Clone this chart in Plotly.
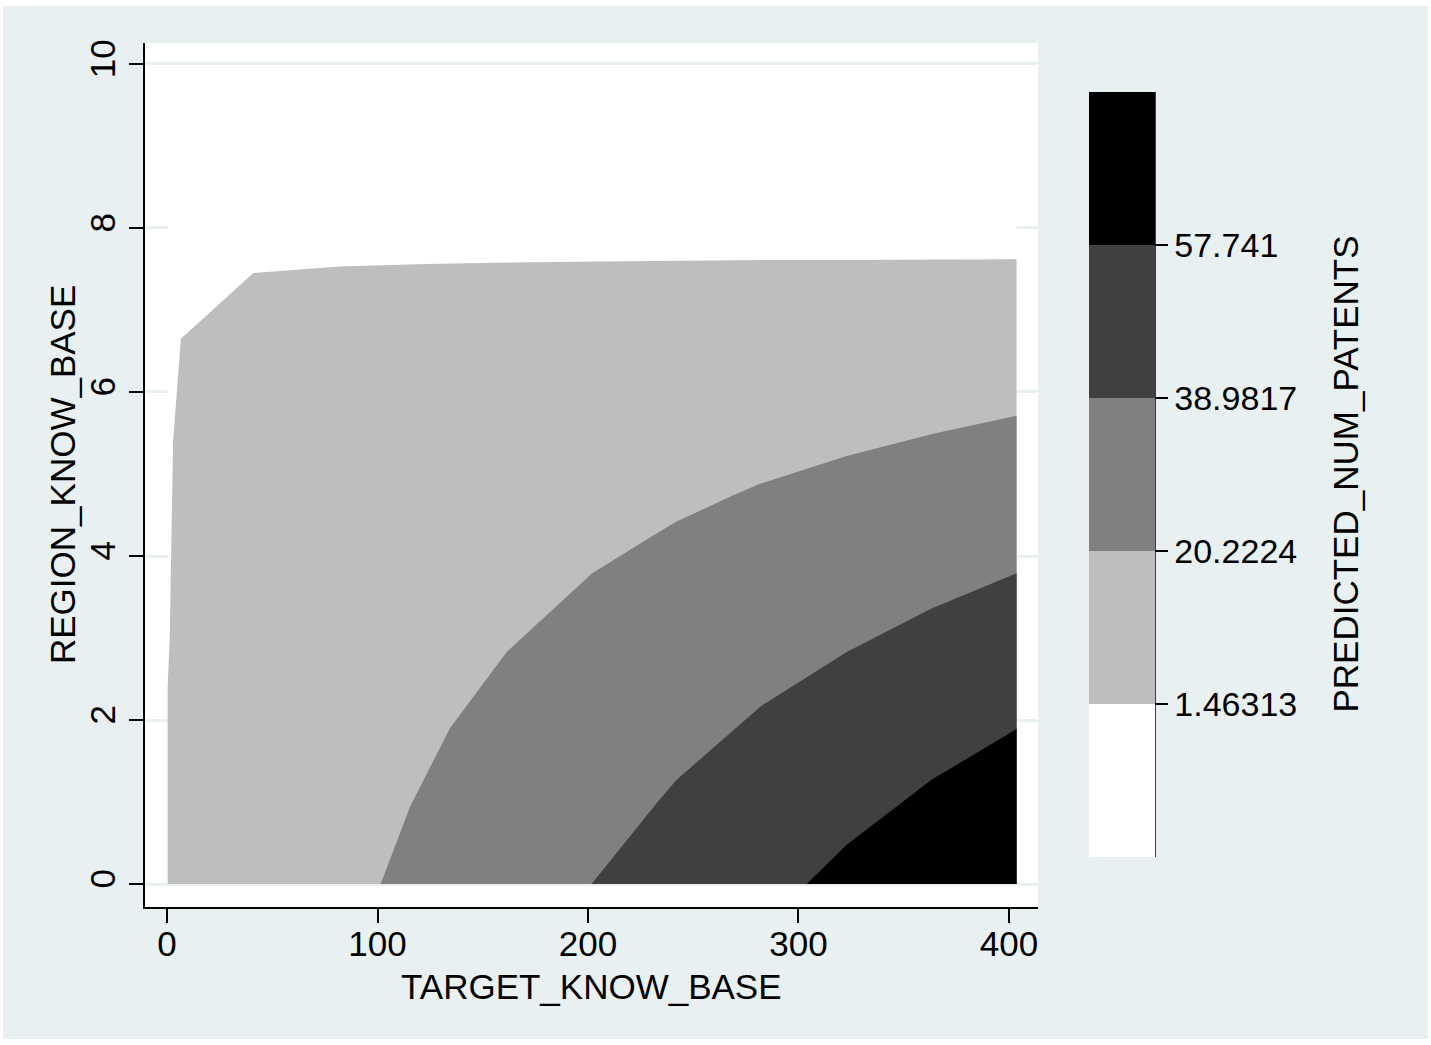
import plotly.graph_objects as go

# contour levels of PREDICTED_NUM_PATENTS and their band colours
levels = [1.46313, 20.2224, 38.9817, 57.741]
level_labels = ["1.46313", "20.2224", "38.9817", "57.741"]
band_colors = ["#ffffff", "#bebebe", "#808080", "#404040", "#000000"]

# extent of the evaluation grid
x_min, x_max = 0.3, 403.6
y_min, y_max = 0.0, 9.6

# level curves: TARGET_KNOW_BASE (x) against REGION_KNOW_BASE (y)
c1_x = [0.3, 0.3, 1.3, 2.9, 6.6, 41, 82, 123, 164, 205, 246, 287, 328, 369, 403.6]
c1_y = [0, 2.4, 3.0, 5.4, 6.65, 7.45, 7.53, 7.56, 7.58, 7.59, 7.60, 7.61, 7.61, 7.615, 7.62]
c2_x = [101.5, 115.4, 134.4, 161.4, 202.0, 227.9, 242.1, 269.0, 281.7, 322.9, 364.0, 403.6]
c2_y = [0, 0.94, 1.90, 2.83, 3.79, 4.20, 4.42, 4.74, 4.88, 5.22, 5.49, 5.71]
c3_x = [201.7, 232.4, 242.1, 281.7, 322.9, 363.2, 403.6]
c3_y = [0, 0.98, 1.27, 2.16, 2.83, 3.36, 3.79]
c4_x = [303.9, 322.9, 363.2, 403.6]
c4_y = [0, 0.48, 1.27, 1.89]

x_ticks = [0, 100, 200, 300, 400]
y_ticks = [0, 2, 4, 6, 8, 10]

x_title = "TARGET_KNOW_BASE"
y_title = "REGION_KNOW_BASE"
z_title = "PREDICTED_NUM_PATENTS"

FONT = "Liberation Sans, Arial, Helvetica, sans-serif"
FS = 35
BG = "#e8f0f2"
W, H = 1431, 1045
ML, MR, MT, MB = 145, 393, 43, 138
PW, PH = W - ML - MR, H - MT - MB

step = levels[1] - levels[0]
cmin, cmax = levels[0] - step, levels[-1] + step
colorscale = []
for i, c in enumerate(band_colors):
    colorscale.append([i / 5, c])
    colorscale.append([(i + 1) / 5, c])

fig = go.Figure()

# lowest band covers the whole grid
fig.add_trace(go.Scatter(
    x=[x_min, x_max, x_max, x_min, x_min], y=[y_min, y_min, y_max, y_max, y_min],
    fill="toself", fillcolor=band_colors[0], mode="none", hoverinfo="skip"))

# nested bands above each level
for k, (cx, cy) in enumerate([(c1_x, c1_y), (c2_x, c2_y), (c3_x, c3_y), (c4_x, c4_y)]):
    px = list(cx) + [x_max, cx[0]]
    py = list(cy) + [y_min, cy[0]]
    fig.add_trace(go.Scatter(x=px, y=py, fill="toself", fillcolor=band_colors[k + 1],
                             mode="none", hoverinfo="skip"))


def px2paper_x(p):
    return (p - ML) / PW


def px2paper_y(p):
    return (H - MB - p) / PH


# colour key
fig.add_trace(go.Scatter(
    x=[None] * len(levels), y=[None] * len(levels), mode="markers", hoverinfo="skip",
    marker=dict(color=levels, colorscale=colorscale, cmin=cmin, cmax=cmax, showscale=True,
                colorbar=dict(
                    x=px2paper_x(1089), xanchor="left", xpad=0,
                    y=px2paper_y(474.5), yanchor="middle", ypad=0,
                    thickness=66, thicknessmode="pixels",
                    len=765, lenmode="pixels",
                    outlinewidth=0, borderwidth=0,
                    tickvals=levels, ticktext=level_labels,
                    ticks="outside", ticklen=13, tickwidth=1.5, tickcolor="black",
                    tickfont=dict(family=FONT, size=FS - 1, color="black"),
                ))))

shapes = [
    # colour key axis line
    dict(type="line", xref="paper", yref="paper",
         x0=px2paper_x(1155), x1=px2paper_x(1155), y0=px2paper_y(857), y1=px2paper_y(92),
         line=dict(color="black", width=1.5)),
]
# thin white frame round the graph region
for (a, b, c, d) in [(0, 0, W, 6), (0, H - 6, W, H), (0, 0, 3, H), (W - 3, 0, W, H)]:
    shapes.append(dict(type="rect", xref="paper", yref="paper",
                       x0=px2paper_x(a), x1=px2paper_x(c), y0=px2paper_y(d), y1=px2paper_y(b),
                       fillcolor="white", line=dict(width=0), layer="above"))

title_font = dict(family=FONT, size=FS, color="black")
annotations = [
    dict(text=z_title, xref="paper", yref="paper",
         x=px2paper_x(1345), y=px2paper_y(474.5), xanchor="center", yanchor="middle",
         textangle=-90, showarrow=False, font=title_font),
    dict(text=y_title, xref="paper", yref="paper",
         x=px2paper_x(62), y=px2paper_y(475), xanchor="center", yanchor="middle",
         textangle=-90, showarrow=False, font=title_font),
    dict(text=x_title, xref="paper", yref="paper",
         x=px2paper_x(591.5), y=px2paper_y(986), xanchor="center", yanchor="middle",
         showarrow=False, font=title_font),
]

fig.update_layout(
    width=W, height=H,
    margin=dict(l=ML, r=MR, t=MT, b=MB, autoexpand=False),
    paper_bgcolor=BG, plot_bgcolor="white",
    showlegend=False,
    font=dict(family=FONT, size=FS, color="black"),
    shapes=shapes,
    annotations=annotations,
    xaxis=dict(range=[-10.45, 413.78], tickvals=x_ticks, showgrid=False, zeroline=False,
               showline=True, linecolor="black", linewidth=2,
               ticks="outside", ticklen=14, tickwidth=2, tickcolor="black",
               ticklabelstandoff=-9,
               tickfont=dict(family=FONT, size=FS)),
    yaxis=dict(range=[-0.2805, 10.256], tickvals=y_ticks, tickangle=-90,
               showgrid=True, gridcolor=BG, gridwidth=2.5, zeroline=False,
               showline=True, linecolor="black", linewidth=2,
               ticks="outside", ticklen=14, tickwidth=2, tickcolor="black",
               tickfont=dict(family=FONT, size=FS)),
)

fig.write_html("out.html")
